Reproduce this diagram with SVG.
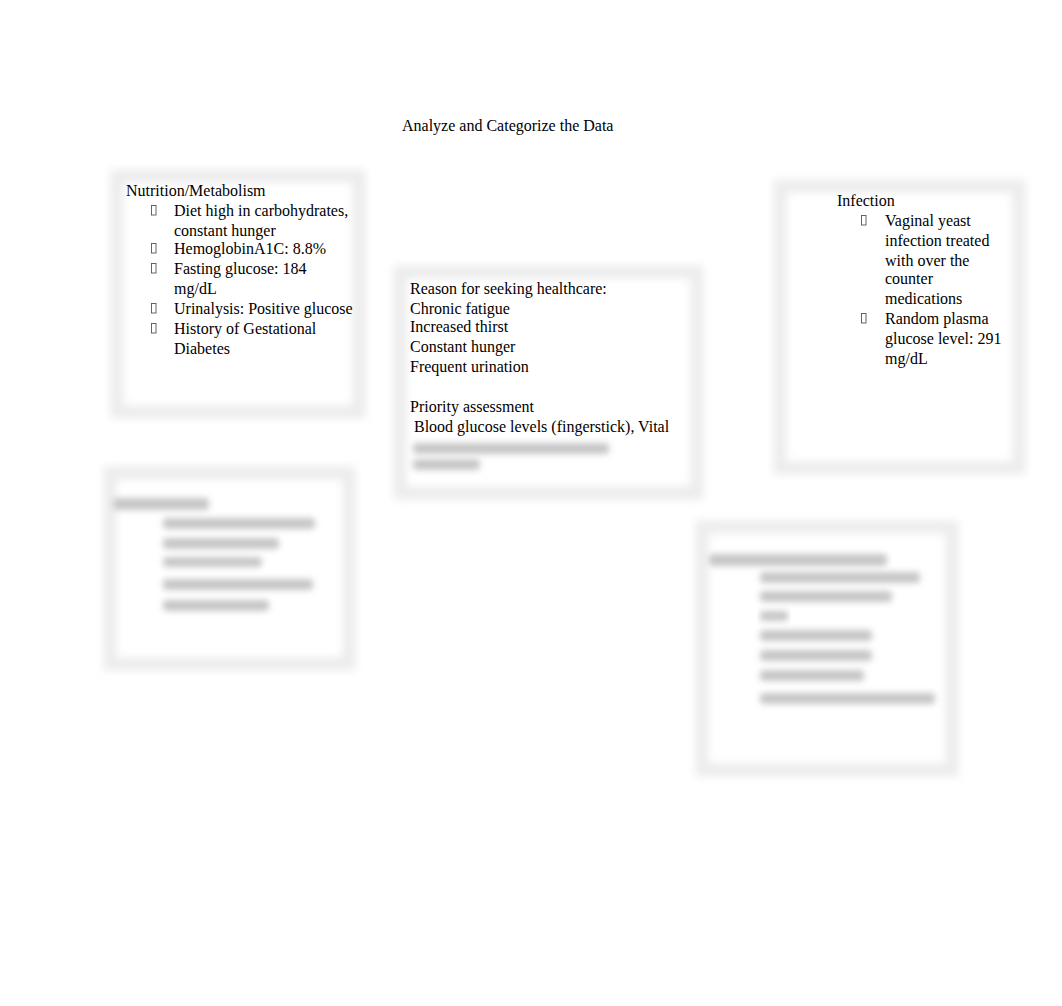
<svg xmlns="http://www.w3.org/2000/svg" width="1062" height="1006" viewBox="0 0 1062 1006">
<defs>
<filter id="soft" x="-10%" y="-10%" width="120%" height="120%"><feGaussianBlur stdDeviation="4"/></filter>
<filter id="blurtext" x="-10%" y="-60%" width="120%" height="220%"><feGaussianBlur stdDeviation="3.2"/></filter>
</defs>
<style>
.frame{fill:#ffffff;stroke:#ececec;stroke-width:13;filter:url(#soft)}
.t{font-family:"Liberation Serif","Times New Roman",serif;font-size:16px;fill:#000}
.b{fill:none;stroke:#555;stroke-width:0.9}
.blob{fill:#c6c6c6;filter:url(#blurtext)}
</style>
<rect width="1062" height="1006" fill="#ffffff"/>
<text class="t" x="402" y="131">Analyze and Categorize the Data</text>
<g id="connectors"></g>

<g id="node-nutrition">
<rect class="frame" x="117" y="176" width="242" height="236"/>
<text class="t" x="126" y="196">Nutrition/Metabolism</text>
<rect class="b" x="151.5" y="205.5" width="4.5" height="9.5"/>
<rect class="b" x="151.5" y="243.5" width="4.5" height="9.5"/>
<rect class="b" x="151.5" y="263.5" width="4.5" height="9.5"/>
<rect class="b" x="151.5" y="303.5" width="4.5" height="9.5"/>
<rect class="b" x="151.5" y="323.5" width="4.5" height="9.5"/>
<text class="t" x="174" y="216">Diet high in carbohydrates,</text>
<text class="t" x="174" y="236">constant hunger</text>
<text class="t" x="174" y="254">HemoglobinA1C: 8.8%</text>
<text class="t" x="174" y="274">Fasting glucose: 184</text>
<text class="t" x="174" y="294">mg/dL</text>
<text class="t" x="174" y="314">Urinalysis: Positive glucose</text>
<text class="t" x="174" y="334">History of Gestational</text>
<text class="t" x="174" y="354">Diabetes</text>
</g>

<g id="node-reason">
<rect class="frame" x="400" y="272" width="297" height="221"/>
<text class="t" x="410" y="294">Reason for seeking healthcare:</text>
<text class="t" x="410" y="314">Chronic fatigue</text>
<text class="t" x="410" y="332">Increased thirst</text>
<text class="t" x="410" y="352">Constant hunger</text>
<text class="t" x="410" y="372">Frequent urination</text>
<text class="t" x="410" y="412">Priority assessment</text>
<text class="t" x="414" y="432">Blood glucose levels (fingerstick), Vital</text>
<rect class="blob" x="413" y="443" width="196" height="11" rx="4"/>
<rect class="blob" x="413" y="459" width="67" height="11" rx="4"/>
</g>

<g id="node-infection">
<rect class="frame" x="780" y="186" width="239" height="282"/>
<text class="t" x="837" y="206">Infection</text>
<rect class="b" x="861.5" y="215.5" width="4.5" height="9.5"/>
<rect class="b" x="861.5" y="313.5" width="4.5" height="9.5"/>
<text class="t" x="885" y="226">Vaginal yeast</text>
<text class="t" x="885" y="246">infection treated</text>
<text class="t" x="885" y="266">with over the</text>
<text class="t" x="885" y="284">counter</text>
<text class="t" x="885" y="304">medications</text>
<text class="t" x="885" y="324">Random plasma</text>
<text class="t" x="885" y="344">glucose level: 291</text>
<text class="t" x="885" y="364">mg/dL</text>
</g>

<g id="node-blurred-left">
<rect class="frame" x="110" y="473" width="239" height="191"/>
<rect class="blob" x="113" y="498" width="96" height="12" rx="4"/>
<rect class="blob" x="163" y="518" width="152" height="11" rx="4"/>
<rect class="blob" x="163" y="538" width="116" height="11" rx="4"/>
<rect class="blob" x="163" y="557" width="99" height="10" rx="4"/>
<rect class="blob" x="163" y="579" width="150" height="11" rx="4"/>
<rect class="blob" x="163" y="600" width="106" height="11" rx="4"/>
</g>

<g id="node-blurred-right">
<rect class="frame" x="702" y="527" width="250" height="243"/>
<rect class="blob" x="709" y="554" width="178" height="12" rx="4"/>
<rect class="blob" x="760" y="572" width="160" height="11" rx="4"/>
<rect class="blob" x="760" y="591" width="132" height="11" rx="4"/>
<rect class="blob" x="760" y="611" width="28" height="10" rx="4"/>
<rect class="blob" x="760" y="630" width="112" height="11" rx="4"/>
<rect class="blob" x="760" y="650" width="112" height="11" rx="4"/>
<rect class="blob" x="760" y="670" width="104" height="11" rx="4"/>
<rect class="blob" x="760" y="693" width="175" height="11" rx="4"/>
</g>
</svg>
